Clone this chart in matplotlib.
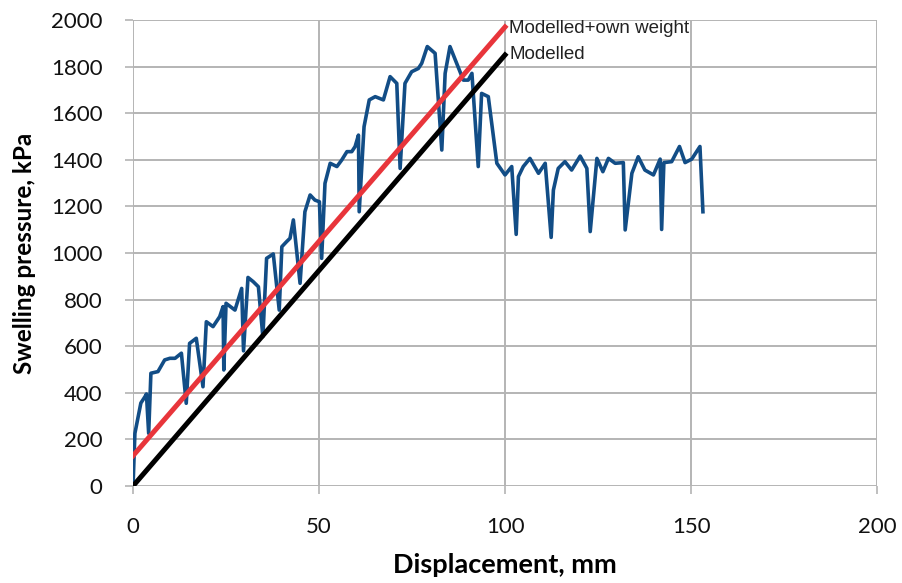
import matplotlib.pyplot as plt

disp = [0.0, 0.5, 2.1, 3.2, 3.6, 4.2, 4.8, 6.7, 8.5, 9.9, 11.3, 13.0, 14.3,
        15.2, 17.0, 18.8, 19.7, 21.5, 23.3, 24.2, 24.4, 25.0, 27.4, 29.2,
        29.7, 30.9, 32.3, 33.7, 34.9, 35.9, 37.7, 39.3, 40.0, 41.3, 42.2,
        43.1, 44.9, 46.2, 47.6, 48.9, 50.1, 50.7, 51.6, 53.0, 54.8, 56.1,
        57.5, 58.8, 59.7, 60.6, 60.8, 62.1, 63.5, 65.1, 67.3, 69.1, 70.9,
        71.8, 73.1, 74.9, 76.7, 77.6, 79.1, 81.2, 83.0, 83.9, 85.2, 88.8,
        90.1, 91.1, 92.8, 93.7, 95.5, 97.8, 100.0, 101.8, 103.0, 103.6,
        104.9, 106.7, 109.0, 110.8, 112.4, 113.0, 114.3, 116.1, 117.9,
        120.2, 122.0, 122.9, 124.7, 126.3, 127.8, 129.6, 131.8, 132.3,
        134.1, 135.8, 137.6, 139.9, 141.7, 142.1, 142.7, 144.8, 146.9,
        148.4, 150.2, 152.4, 153.2]
pressure = [0, 226, 356, 383, 395, 226, 484, 491, 541, 548, 548, 570, 355,
            612, 634, 426, 705, 684, 727, 770, 498, 784, 755, 848,
            580, 895, 877, 855, 641, 977, 996, 755, 1027, 1049, 1063,
            1142, 870, 1177, 1249, 1227, 1220, 977, 1299, 1385, 1371, 1399,
            1435, 1435, 1457, 1506, 1177, 1542, 1657, 1671, 1657, 1757, 1728,
            1363, 1728, 1778, 1792, 1814, 1886, 1857, 1442, 1771, 1886, 1742,
            1742, 1771, 1371, 1685, 1671, 1385, 1335, 1371, 1080, 1328,
            1371, 1406, 1342, 1385, 1067, 1270, 1363, 1392, 1356,
            1416, 1363, 1092, 1406, 1349, 1406, 1385, 1388, 1099,
            1342, 1413, 1356, 1335, 1403, 1101, 1388, 1392, 1457,
            1388, 1403, 1457, 1177]

# model lines
model_x = [0, 100]
model = [0, 1850]
model_own = [130, 1970]

xticks = [0, 50, 100, 150, 200]
yticks = list(range(0, 2001, 200))

fig = plt.figure(figsize=(9.02, 5.83), dpi=100)
ax = fig.add_axes([0.1475, 0.1664, 0.8248, 0.7993])

ax.plot(disp, pressure, color='#124d86', lw=2.6, solid_joinstyle='round', zorder=3)
ax.plot(model_x, model_own, color='#e8353b', lw=3.6, zorder=4)
ax.plot(model_x, model, color='black', lw=3.6, zorder=4)

ax.text(101.2, 1962, 'Modelled+own weight', fontsize=13.5, va='center',
        family='Liberation Sans', color='#222222')
ax.text(101.2, 1850, 'Modelled', fontsize=13.5, va='center',
        family='Liberation Sans', color='#222222')

ax.set_xlim(0, 200)
ax.set_ylim(0, 2000)
ax.set_xticks(xticks)
ax.set_yticks(yticks)
ax.grid(True, color='#b4b4b4', lw=1.4, zorder=0)
ax.set_axisbelow(True)
for s in ax.spines.values():
    s.set_visible(False)
ax.tick_params(axis='both', length=6, width=1.2, color='#b4b4b4',
               labelsize=16, labelcolor='#111111')
ax.tick_params(axis='x', pad=16)
ax.tick_params(axis='y', pad=16)
for lab in ax.get_xticklabels() + ax.get_yticklabels():
    lab.set_family('Lato')

ax.set_xlabel('Displacement, mm', fontsize=19.5, fontweight='bold', family='Lato', labelpad=12)
ax.set_ylabel('Swelling pressure, kPa', fontsize=17.5, fontweight='bold', family='Lato', labelpad=11)

fig.savefig('out.png', dpi=100)
